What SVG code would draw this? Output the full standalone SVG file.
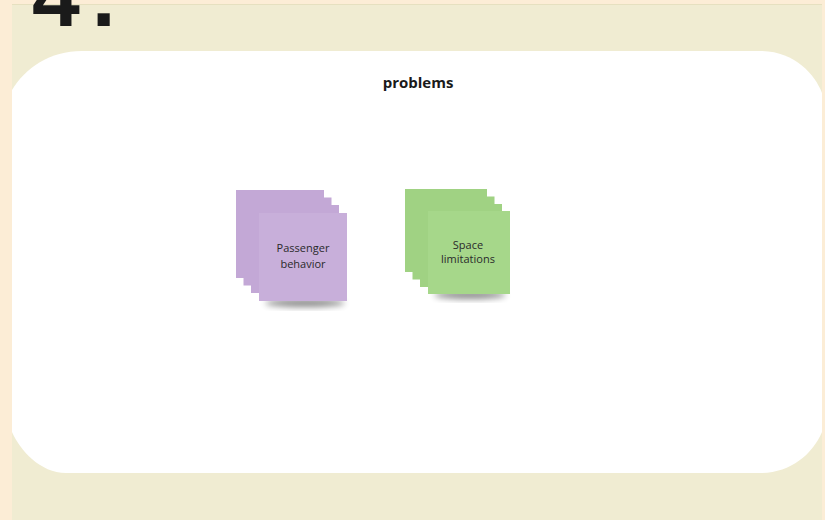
<svg xmlns="http://www.w3.org/2000/svg" width="825" height="520" viewBox="0 0 825 520">
<defs>
<style>
.lbl{font-family:"Open Sans","Liberation Sans",sans-serif;font-size:11px;fill:#2a2a2a;text-anchor:middle}
.title{font-family:"Open Sans","Liberation Sans",sans-serif;font-size:15px;font-weight:700;fill:#1a1a1a;text-anchor:middle}
.pur{fill:#C8AFDA}
.pur2{fill:#C3A8D6}
.grn{fill:#A6D78A}
.grn2{fill:#A0D283}
</style>
<filter id="blur" x="-50%" y="-50%" width="200%" height="200%"><feGaussianBlur stdDeviation="3"/></filter>
</defs>
<rect x="0" y="0" width="825" height="520" fill="#FCEDD6"/>
<rect x="12" y="4" width="810" height="516" fill="#F0ECD2"/>
<line x1="12" y1="4.5" x2="822" y2="4.5" stroke="#E6E0C0" stroke-width="1"/>
<path d="M82,51 L760,51 C795,51 815,75 822,93 L822,432 C812,455 790,473 760,473 L66,473 C40,473 20,450 12,432 L12,90 C25,68 50,51 82,51 Z" fill="#FFFFFF"/>
<text x="32" y="26" font-family="Liberation Sans,Arial,sans-serif" font-weight="700" font-size="86" fill="#1a1a1a">4<tspan dx="12">.</tspan></text>
<text class="title" x="418" y="88">problems</text>
<g id="passenger-behavior">
<ellipse cx="305" cy="303" rx="40" ry="4" fill="#000" opacity="0.45" filter="url(#blur)"/>
<rect class="pur2" x="236" y="190" width="88" height="88"/>
<rect class="pur2" x="243.5" y="197.5" width="88" height="88"/>
<rect class="pur2" x="251" y="205" width="88" height="88"/>
<rect class="pur" x="259" y="213" width="88" height="88"/>
<text class="lbl" x="303" y="252">Passenger</text>
<text class="lbl" x="303" y="268">behavior</text>
</g>
<g id="space-limitations">
<ellipse cx="470" cy="295" rx="36" ry="4" fill="#000" opacity="0.45" filter="url(#blur)"/>
<rect class="grn2" x="405" y="189" width="82" height="83"/>
<rect class="grn2" x="412.5" y="196.5" width="82" height="83"/>
<rect class="grn2" x="420" y="204" width="82" height="83"/>
<rect class="grn" x="428" y="211" width="82" height="83"/>
<text class="lbl" x="468" y="249">Space</text>
<text class="lbl" x="468" y="263">limitations</text>
</g>
<g id="connectors"/>
</svg>
